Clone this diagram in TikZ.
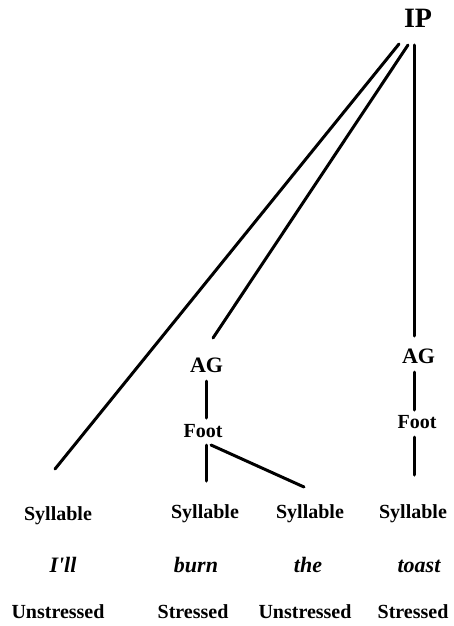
\documentclass[tikz,border=0pt]{standalone}
\usepackage{fontspec}
\setmainfont{Liberation Serif}
\begin{document}
\begin{tikzpicture}[x=1pt,y=-1pt,
  lbl/.style={anchor=base,inner sep=0pt,font=\fontsize{20}{22}\selectfont\bfseries},
  wrd/.style={anchor=base,inner sep=0pt,font=\fontsize{22}{24}\selectfont\bfseries\itshape},
  edge/.style={line width=3pt,line cap=round}]
\useasboundingbox (0,0) rectangle (453,626);
% nodes
\node[anchor=base,inner sep=0pt,font=\fontsize{28}{30}\selectfont\bfseries] (IP) at (418,28) {IP};
\node[lbl,font=\fontsize{22}{24}\selectfont\bfseries] (AG1) at (206.5,372) {AG};
\node[lbl,font=\fontsize{22}{24}\selectfont\bfseries] (AG2) at (418.5,363) {AG};
\node[lbl] (F1) at (203,437) {Foot};
\node[lbl] (F2) at (417,428) {Foot};
\node[lbl] (S1) at (58,520) {Syllable};
\node[lbl] (S2) at (205,518) {Syllable};
\node[lbl] (S3) at (310,518) {Syllable};
\node[lbl] (S4) at (413,518) {Syllable};
\node[wrd] (W1) at (63,572) {I\textquotesingle ll};
\node[wrd] (W2) at (196,572) {burn};
\node[wrd] (W3) at (308,572) {the};
\node[wrd] (W4) at (419,572) {toast};
\node[lbl] (T1) at (58,618) {Unstressed};
\node[lbl] (T2) at (193,618) {Stressed};
\node[lbl] (T3) at (305,618) {Unstressed};
\node[lbl] (T4) at (413,618) {Stressed};
% connector end points
\coordinate (ipa) at (399,44);
\coordinate (ipb) at (408,45);
\coordinate (ipc) at (414,45);
\coordinate (s1top) at (55,469);
\coordinate (ag1top) at (213,338);
\coordinate (ag2top) at (414,336);
\coordinate (ag1bot) at (206,381);
\coordinate (f1top) at (206,418);
\coordinate (ag2bot) at (414,372);
\coordinate (f2top) at (414,410);
\coordinate (f1bot) at (206,445);
\coordinate (f1botr) at (211,445);
\coordinate (s2top) at (206,481);
\coordinate (s3top) at (304,487);
\coordinate (f2bot) at (414,437);
\coordinate (s4top) at (414,475);
% connectors
\draw[edge] (ipa) -- (s1top);
\draw[edge] (ipb) -- (ag1top);
\draw[edge] (ipc) -- (ag2top);
\draw[edge] (ag1bot) -- (f1top);
\draw[edge] (ag2bot) -- (f2top);
\draw[edge] (f1bot) -- (s2top);
\draw[edge] (f1botr) -- (s3top);
\draw[edge] (f2bot) -- (s4top);
\end{tikzpicture}
\end{document}
